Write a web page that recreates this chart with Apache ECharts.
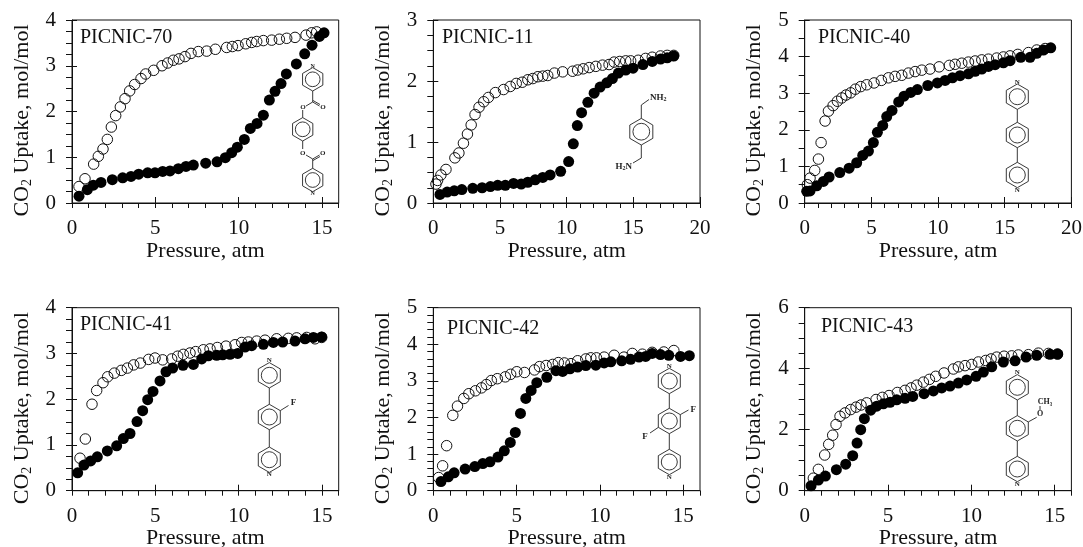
<!DOCTYPE html>
<html><head><meta charset="utf-8">
<style>html,body{margin:0;padding:0;background:#fff}#c{width:1083px;height:547px}</style>
<script src="https://cdn.jsdelivr.net/npm/echarts@6/dist/echarts.min.js"></script>
</head><body><div id="c"></div>
<script>
const p70Desorb=[[0.42,0.36],[0.78,0.53],[1.30,0.85],[1.58,1.02],[1.86,1.18],[2.12,1.39],[2.36,1.66],[2.62,1.91],[2.90,2.10],[3.18,2.28],[3.46,2.45],[3.76,2.59],[4.14,2.72],[4.42,2.82],[4.90,2.90],[5.40,3.00],[5.74,3.06],[6.08,3.12],[6.42,3.15],[6.78,3.20],[7.14,3.27],[7.58,3.31],[8.08,3.32],[8.60,3.36],[9.28,3.40],[9.62,3.42],[9.96,3.44],[10.42,3.48],[10.78,3.51],[11.08,3.53],[11.48,3.55],[11.98,3.56],[12.44,3.58],[12.88,3.60],[13.38,3.62],[14.04,3.67],[14.38,3.72],[14.68,3.74]];
const p70Adsorb=[[0.42,0.15],[0.92,0.29],[1.28,0.39],[1.74,0.45],[2.42,0.51],[3.04,0.55],[3.54,0.58],[4.00,0.63],[4.54,0.66],[4.98,0.66],[5.44,0.69],[5.88,0.70],[6.38,0.75],[6.84,0.80],[7.28,0.83],[8.02,0.87],[8.70,0.90],[9.20,0.99],[9.58,1.10],[9.92,1.22],[10.34,1.39],[10.70,1.63],[11.10,1.74],[11.48,1.92],[11.84,2.25],[12.18,2.44],[12.54,2.61],[12.86,2.82],[13.46,3.04],[13.96,3.26],[14.40,3.45],[14.84,3.64],[15.12,3.72]];
const p11Desorb=[[0.2,0.31],[0.32,0.37],[0.57,0.46],[0.95,0.55],[1.62,0.74],[1.92,0.82],[2.26,0.98],[2.56,1.13],[2.84,1.28],[3.13,1.45],[3.43,1.57],[3.78,1.66],[4.13,1.73],[4.65,1.81],[5.27,1.86],[5.77,1.91],[6.22,1.96],[6.67,1.98],[7.09,2.02],[7.46,2.04],[7.84,2.07],[8.21,2.08],[8.58,2.09],[9.08,2.13],[9.70,2.15],[10.45,2.16],[10.82,2.18],[11.24,2.20],[11.69,2.22],[12.19,2.24],[12.69,2.26],[13.18,2.27],[13.56,2.31],[13.98,2.32],[14.43,2.33],[14.80,2.33],[15.37,2.34],[15.92,2.37],[16.42,2.39],[17.04,2.41],[17.54,2.42],[18.03,2.42]];
const p11Adsorb=[[0.50,0.14],[1.04,0.18],[1.57,0.20],[2.14,0.22],[2.96,0.24],[3.66,0.25],[4.28,0.27],[4.83,0.29],[5.40,0.29],[6.02,0.32],[6.59,0.31],[7.09,0.34],[7.64,0.38],[8.21,0.42],[8.76,0.46],[9.55,0.52],[10.15,0.68],[10.50,0.97],[10.80,1.27],[11.12,1.48],[11.59,1.65],[12.06,1.80],[12.51,1.90],[13.01,1.97],[13.43,2.04],[13.88,2.13],[14.43,2.18],[14.98,2.21],[15.72,2.27],[16.42,2.32],[17.04,2.36],[17.54,2.38],[18.03,2.41]];
const p40Desorb=[[0.2,0.50],[0.40,0.68],[0.75,0.89],[1.03,1.20],[1.23,1.65],[1.53,2.24],[1.78,2.51],[2.13,2.66],[2.45,2.78],[2.78,2.87],[3.10,2.95],[3.45,3.01],[3.80,3.11],[4.20,3.18],[4.65,3.23],[5.20,3.28],[5.75,3.35],[6.28,3.42],[6.78,3.46],[7.28,3.49],[7.78,3.55],[8.28,3.59],[8.78,3.63],[9.40,3.66],[10.08,3.72],[10.85,3.76],[11.28,3.79],[11.78,3.82],[12.28,3.85],[12.78,3.88],[13.28,3.91],[13.78,3.93],[14.40,3.96],[14.90,3.99],[15.40,4.02],[15.98,4.06],[16.78,4.11],[17.40,4.18],[18.03,4.22]];
const p40Adsorb=[[0.15,0.32],[0.40,0.33],[0.90,0.47],[1.40,0.59],[1.83,0.71],[2.63,0.83],[3.33,0.95],[3.90,1.10],[4.35,1.30],[4.78,1.42],[5.15,1.65],[5.45,1.93],[5.85,2.12],[6.15,2.36],[6.55,2.53],[7.05,2.76],[7.45,2.92],[7.95,3.02],[8.45,3.10],[9.23,3.21],[9.95,3.28],[10.53,3.35],[11.08,3.42],[11.65,3.48],[12.28,3.53],[12.78,3.60],[13.28,3.66],[13.78,3.73],[14.28,3.78],[14.90,3.83],[15.40,3.89],[16.20,3.98],[16.90,3.98],[17.40,4.09],[17.90,4.18],[18.45,4.24]];
const p41Desorb=[[0.48,0.71],[0.80,1.13],[1.20,1.89],[1.48,2.19],[1.86,2.36],[2.14,2.49],[2.54,2.57],[2.96,2.63],[3.32,2.68],[3.70,2.75],[4.10,2.79],[4.60,2.87],[4.98,2.90],[5.44,2.86],[5.98,2.88],[6.34,2.94],[6.68,2.98],[7.08,3.01],[7.42,3.04],[7.88,3.08],[8.28,3.10],[8.72,3.13],[9.24,3.16],[9.78,3.19],[10.18,3.24],[10.58,3.25],[11.08,3.27],[11.58,3.29],[12.28,3.32],[12.98,3.33],[13.48,3.34],[14.08,3.35],[14.58,3.32],[14.98,3.35]];
const p41Adsorb=[[0.34,0.39],[0.72,0.56],[1.12,0.65],[1.52,0.74],[2.12,0.87],[2.68,0.98],[3.08,1.14],[3.48,1.25],[3.90,1.51],[4.24,1.75],[4.54,1.99],[4.86,2.17],[5.28,2.40],[5.64,2.60],[6.04,2.68],[6.66,2.74],[7.28,2.76],[7.78,2.88],[8.18,2.95],[8.68,2.96],[9.04,2.97],[9.48,2.98],[9.94,3.00],[10.38,3.14],[10.78,3.17],[11.48,3.20],[12.08,3.24],[12.64,3.25],[13.38,3.27],[13.98,3.32],[14.48,3.35],[14.98,3.36]];
const p42Desorb=[[0.32,0.36],[0.56,0.68],[0.80,1.23],[1.17,2.06],[1.45,2.31],[1.83,2.52],[2.13,2.65],[2.53,2.73],[2.89,2.81],[3.18,2.90],[3.48,3.01],[3.84,3.06],[4.32,3.11],[4.64,3.18],[5.01,3.25],[5.47,3.23],[6.07,3.30],[6.37,3.39],[6.77,3.42],[7.16,3.45],[7.50,3.50],[7.86,3.49],[8.26,3.47],[8.66,3.55],[9.15,3.60],[9.45,3.63],[9.79,3.63],[10.25,3.65],[10.85,3.70],[11.44,3.65],[11.94,3.75],[12.54,3.73],[13.13,3.78],[13.83,3.79],[14.43,3.83]];
const p42Adsorb=[[0.46,0.25],[0.90,0.38],[1.25,0.49],[1.91,0.59],[2.49,0.66],[2.97,0.74],[3.40,0.79],[3.88,0.92],[4.26,1.09],[4.62,1.32],[4.92,1.59],[5.23,2.11],[5.55,2.52],[5.87,2.74],[6.21,2.95],[6.81,3.10],[7.36,3.28],[7.76,3.26],[8.20,3.33],[8.66,3.38],[9.15,3.42],[9.75,3.43],[10.25,3.49],[10.65,3.52],[11.30,3.55],[11.84,3.59],[12.34,3.65],[12.74,3.67],[13.13,3.75],[13.63,3.72],[14.13,3.70],[14.83,3.67],[15.36,3.69]];
const p43Desorb=[[0.52,0.41],[0.82,0.70],[1.20,1.17],[1.44,1.52],[1.68,1.82],[1.88,2.17],[2.12,2.44],[2.42,2.55],[2.76,2.66],[3.08,2.74],[3.38,2.81],[3.72,2.88],[4.28,2.99],[4.66,3.06],[5.06,3.12],[5.56,3.22],[6.02,3.29],[6.38,3.37],[6.72,3.46],[7.12,3.56],[7.48,3.65],[7.86,3.75],[8.36,3.86],[8.92,3.99],[9.22,4.06],[9.62,4.10],[10.02,4.14],[10.42,4.22],[10.86,4.27],[11.18,4.32],[11.52,4.38],[11.96,4.41],[12.42,4.42],[12.82,4.45],[13.42,4.46],[14.02,4.51],[14.62,4.50],[15.16,4.48]];
const p43Adsorb=[[0.38,0.16],[0.82,0.35],[1.24,0.48],[1.90,0.69],[2.46,0.87],[2.88,1.15],[3.14,1.56],[3.36,2.00],[3.58,2.36],[3.96,2.64],[4.32,2.77],[4.72,2.85],[5.12,2.90],[5.52,2.98],[6.02,3.03],[6.48,3.09],[7.16,3.18],[7.72,3.27],[8.22,3.37],[8.72,3.43],[9.22,3.53],[9.72,3.63],[10.28,3.75],[10.72,3.89],[11.22,4.06],[11.92,4.22],[12.62,4.26],[13.28,4.38],[13.92,4.44],[14.72,4.47],[15.18,4.48]];

const panelNames=['PICNIC-70','PICNIC-11','PICNIC-40','PICNIC-41','PICNIC-42','PICNIC-43'];
const desorbSeries=[p70Desorb,p11Desorb,p40Desorb,p41Desorb,p42Desorb,p43Desorb];
const adsorbSeries=[p70Adsorb,p11Adsorb,p40Adsorb,p41Adsorb,p42Adsorb,p43Adsorb];
const xMaxes=[16,20,20,16,16,16];
const xLabels=[[0,5,10,15],[0,5,10,15,20],[0,5,10,15,20],[0,5,10,15],[0,5,10,15],[0,5,10,15]];
const yMaxes=[4,3,5,4,5,6];
const yLabels=[[0,1,2,3,4],[0,1,2,3],[0,1,2,3,4,5],[0,1,2,3,4],[0,1,2,3,4,5],[0,2,4,6]];
const yMinorSteps=[0.25,0.25,0.5,0.25,0.2,0.5];
const xAxisName='Pressure, atm';
const yAxisName='{n|CO}{s|2}{n| Uptake, mol/mol}';

const FONT='Liberation Serif', INK='#111';
const lefts=[72,433.3,804.7,72,433.3,804.7];
const tops=[20,20,20,307.7,307.7,307.7];
const W=266.7,H=183;
const grids=[],xAxes=[],yAxes=[],series=[],titles=[];
const titlePos=[[80,28],[442,28],[818,28],[80,315],[447,319],[821,317]];
const only=(list)=>(v)=>{const r=Math.round(v*1000)/1000;return list.includes(r)?String(r):'';};
panelNames.forEach((n,i)=>{
  grids.push({left:lefts[i],top:tops[i],width:W,height:H,show:true,outerBoundsMode:'none',borderColor:INK,borderWidth:1,backgroundColor:'transparent'});
  titles.push({text:n,left:titlePos[i][0],top:titlePos[i][1],padding:0,textStyle:{fontFamily:FONT,fontSize:20,fontWeight:'normal',color:INK}});
  xAxes.push({type:'value',gridIndex:i,position:'bottom',min:0,max:xMaxes[i],interval:1,splitLine:{show:false},
    axisLine:{show:true,onZero:false,lineStyle:{color:INK}},axisTick:{show:true,length:5,lineStyle:{color:INK}},
    axisLabel:{formatter:only(xLabels[i]),showMinLabel:true,showMaxLabel:true,fontFamily:FONT,fontSize:21,color:INK,margin:15,hideOverlap:false},
    name:xAxisName,nameLocation:'middle',nameGap:34,nameTextStyle:{fontFamily:FONT,fontSize:22,color:INK}});
  yAxes.push({type:'value',gridIndex:i,position:'left',min:0,max:yMaxes[i],interval:yMinorSteps[i],splitLine:{show:false},
    axisLine:{show:true,onZero:false,lineStyle:{color:INK}},axisTick:{show:true,length:6,lineStyle:{color:INK}},
    axisLabel:{formatter:only(yLabels[i]),showMinLabel:true,showMaxLabel:true,fontFamily:FONT,fontSize:21,color:INK,margin:16,hideOverlap:false},
    name:yAxisName,nameLocation:'middle',nameRotate:90,nameGap:38,
    nameTextStyle:{padding:[0,18,0,0],rich:{n:{fontFamily:FONT,fontSize:22,color:INK,lineHeight:24},s:{fontFamily:FONT,fontSize:14,color:INK,lineHeight:24,verticalAlign:'bottom'}}}});
});
panelNames.forEach((n,i)=>{
  xAxes.push({type:'value',gridIndex:i,position:'bottom',min:0,max:xMaxes[i],interval:5,splitLine:{show:false},axisLine:{show:false,onZero:false},
    axisLabel:{show:false},axisTick:{show:true,inside:true,length:6,customValues:xLabels[i],lineStyle:{color:INK}}});
  yAxes.push({type:'value',gridIndex:i,position:'left',min:0,max:yMaxes[i],interval:1,splitLine:{show:false},axisLine:{show:false,onZero:false},
    axisLabel:{show:false},axisTick:{show:true,inside:true,length:5,customValues:yLabels[i],lineStyle:{color:INK}}});
  series.push({name:n+' open',type:'scatter',xAxisIndex:i,yAxisIndex:i,data:desorbSeries[i],symbol:'circle',symbolSize:10.5,silent:true,
    itemStyle:{color:'transparent',borderColor:INK,borderWidth:1,opacity:1}});
  series.push({name:n+' filled',type:'scatter',xAxisIndex:i,yAxisIndex:i,data:adsorbSeries[i],symbol:'circle',symbolSize:11,silent:true,
    itemStyle:{color:'#000',borderWidth:0,opacity:1}});
});

/* molecule sketches */
const g=[];
const ln=(a,b,c,d)=>g.push({type:'line',silent:true,shape:{x1:a,y1:b,x2:c,y2:d},style:{stroke:'#222',lineWidth:0.9,fill:null}});
const tx=(x,y,t,size,align)=>g.push({type:'text',silent:true,x:x,y:y,style:{text:t,fontFamily:FONT,fontSize:size||9,fontWeight:'bold',fill:'#222',align:align||'center',verticalAlign:'middle'}});
function ring(cx,cy,r){
  const pts=[];for(let k=0;k<6;k++){const a=Math.PI*(k/3-0.5);pts.push([cx+r*Math.cos(a),cy+r*Math.sin(a)]);}
  g.push({type:'polygon',silent:true,shape:{points:pts},style:{stroke:'#222',lineWidth:0.9,fill:'none'}});
  g.push({type:'circle',silent:true,shape:{cx:cx,cy:cy,r:r*0.63},style:{stroke:'#222',lineWidth:0.9,fill:'none'}});
}
const R=12.7;
function triple(cx,y1,y2,y3){ring(cx,y1,R);ring(cx,y2,R);ring(cx,y3,R);ln(cx,y1+R,cx,y2-R);ln(cx,y2+R,cx,y3-R);tx(cx,y1-R-2,'N',7);tx(cx,y3+R+2,'N',7);}
// PICNIC-70
ring(312.7,79.3,11.7);ring(302.7,129.3,11.7);ring(312.7,180,11.7);
tx(312.7,66,'N',6);tx(312.7,193,'N',6);
ln(312.7,91,312.7,102);ln(312.7,102,306,106);ln(312.7,102,319.5,106);ln(313,100.5,320,104.5);
tx(303,107.5,'O',7);tx(323,107.5,'O',7);ln(302.7,110,302.7,117.6);
ln(302.7,141,302.7,149);tx(302.7,152.7,'O',7);tx(322.7,152.7,'O',7);
ln(306,155,312.7,159);ln(312.7,159,319.5,155);ln(313,160.5,320,156.5);ln(312.7,159,312.7,168.3);
// PICNIC-11
ring(641.3,131.7,13.3);ln(641.3,118.4,641.3,105);ln(641.3,105,649,99.5);ln(641.3,145,641.3,158);ln(641.3,158,633,163);
g.push({type:'text',silent:true,x:650,y:98,style:{rich:{a:{fontFamily:FONT,fontSize:9,fontWeight:'bold',fill:'#222'},b:{fontFamily:FONT,fontSize:6,fontWeight:'bold',fill:'#222',verticalAlign:'bottom'}},text:'{a|NH}{b|2}',align:'left',verticalAlign:'middle'}});
g.push({type:'text',silent:true,x:632,y:167,style:{rich:{a:{fontFamily:FONT,fontSize:9,fontWeight:'bold',fill:'#222'},b:{fontFamily:FONT,fontSize:6,fontWeight:'bold',fill:'#222',verticalAlign:'bottom'}},text:'{a|H}{b|2}{a|N}',align:'right',verticalAlign:'middle'}});
// PICNIC-40
triple(1017.3,96.7,135,175);
// PICNIC-41
triple(269.3,375.3,417,459.7);ln(280.3,410.6,288.5,405.5);tx(293.5,403,'F',9);
// PICNIC-42
triple(669.3,381,421,462);ln(680.3,414.6,688.5,410);tx(693.3,409.3,'F',9);ln(658.3,427.4,650,433);tx(645,436.3,'F',9);
// PICNIC-43
triple(1017.3,387.3,428.3,469);ln(1028.3,421.9,1036.7,417.3);tx(1040,414,'O',8);ln(1040,410,1040,406);tx(1045,401.5,'CH\u2083',8);

const chart=echarts.init(document.getElementById('c'),null,{renderer:'canvas'});
chart.setOption({animation:false,backgroundColor:'#fff',title:titles,grid:grids,xAxis:xAxes,yAxis:yAxes,series:series,graphic:{elements:g}});
</script></body></html>
